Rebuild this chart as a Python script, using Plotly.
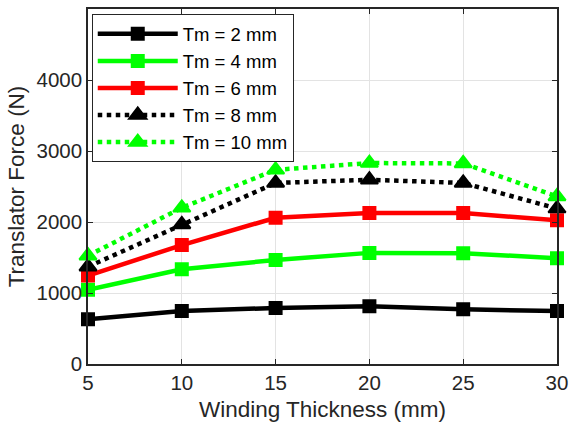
import plotly.graph_objects as go

# Winding thickness (mm) and translator force (N) for each magnet thickness
winding_thickness = [5, 10, 15, 20, 25, 30]
force_tm2 = [630, 745, 790, 815, 770, 745]
force_tm4 = [1045, 1335, 1465, 1565, 1560, 1490]
force_tm6 = [1245, 1675, 2060, 2125, 2125, 2025]
force_tm8 = [1370, 1965, 2550, 2595, 2550, 2190]
force_tm10 = [1525, 2200, 2735, 2830, 2825, 2360]

series = [
    ("Tm = 2 mm", force_tm2, "#000000", "solid", "square"),
    ("Tm = 4 mm", force_tm4, "#00ff00", "solid", "square"),
    ("Tm = 6 mm", force_tm6, "#ff0000", "solid", "square"),
    ("Tm = 8 mm", force_tm8, "#000000", "dot", "triangle-up"),
    ("Tm = 10 mm", force_tm10, "#00ff00", "dot", "triangle-up"),
]

fig = go.Figure()
for name, values, color, dash, symbol in series:
    is_square = symbol == "square"
    fig.add_trace(go.Scatter(
        x=winding_thickness,
        y=values,
        name=name,
        mode="lines+markers",
        line=dict(color=color, width=4.5, dash=dash),
        marker=dict(
            symbol=symbol,
            size=11 if is_square else 15,
            color=color,
            line=dict(color=color, width=3 if is_square else 2),
        ),
        cliponaxis=False,
    ))

axis_color = "#262626"
grid_color = "#e3e3e3"
font_family = "Liberation Sans, Arial, Helvetica, sans-serif"

fig.update_layout(
    width=575,
    height=429,
    margin=dict(l=88, r=12, t=7, b=65),
    paper_bgcolor="white",
    plot_bgcolor="white",
    font=dict(family=font_family, color=axis_color, size=20),
    showlegend=True,
    legend=dict(
        x=0.008, y=0.985, xanchor="left", yanchor="top",
        bgcolor="white",
        bordercolor=axis_color,
        borderwidth=1,
        font=dict(size=18.5, color="#000000"),
        itemwidth=80,
        tracegroupgap=0,
    ),
    xaxis=dict(
        range=[5, 30],
        tickvals=[5, 10, 15, 20, 25, 30],
        showgrid=True, gridcolor=grid_color, gridwidth=1,
        showline=True, linecolor=axis_color, linewidth=1.5, mirror="ticks",
        ticks="inside", ticklen=5, tickcolor=axis_color,
        tickfont=dict(size=20.5),
        zeroline=False,
        title=dict(text="Winding Thickness (mm)", font=dict(size=22.5), standoff=8),
    ),
    yaxis=dict(
        range=[0, 5000],
        tickvals=[0, 1000, 2000, 3000, 4000],
        showgrid=True, gridcolor=grid_color, gridwidth=1,
        showline=True, linecolor=axis_color, linewidth=1.5, mirror="ticks",
        ticks="inside", ticklen=5, tickcolor=axis_color,
        tickfont=dict(size=20.5),
        zeroline=False,
        title=dict(text="Translator Force (N)", font=dict(size=22.5), standoff=6),
    ),
)

fig.write_html("out.html")
